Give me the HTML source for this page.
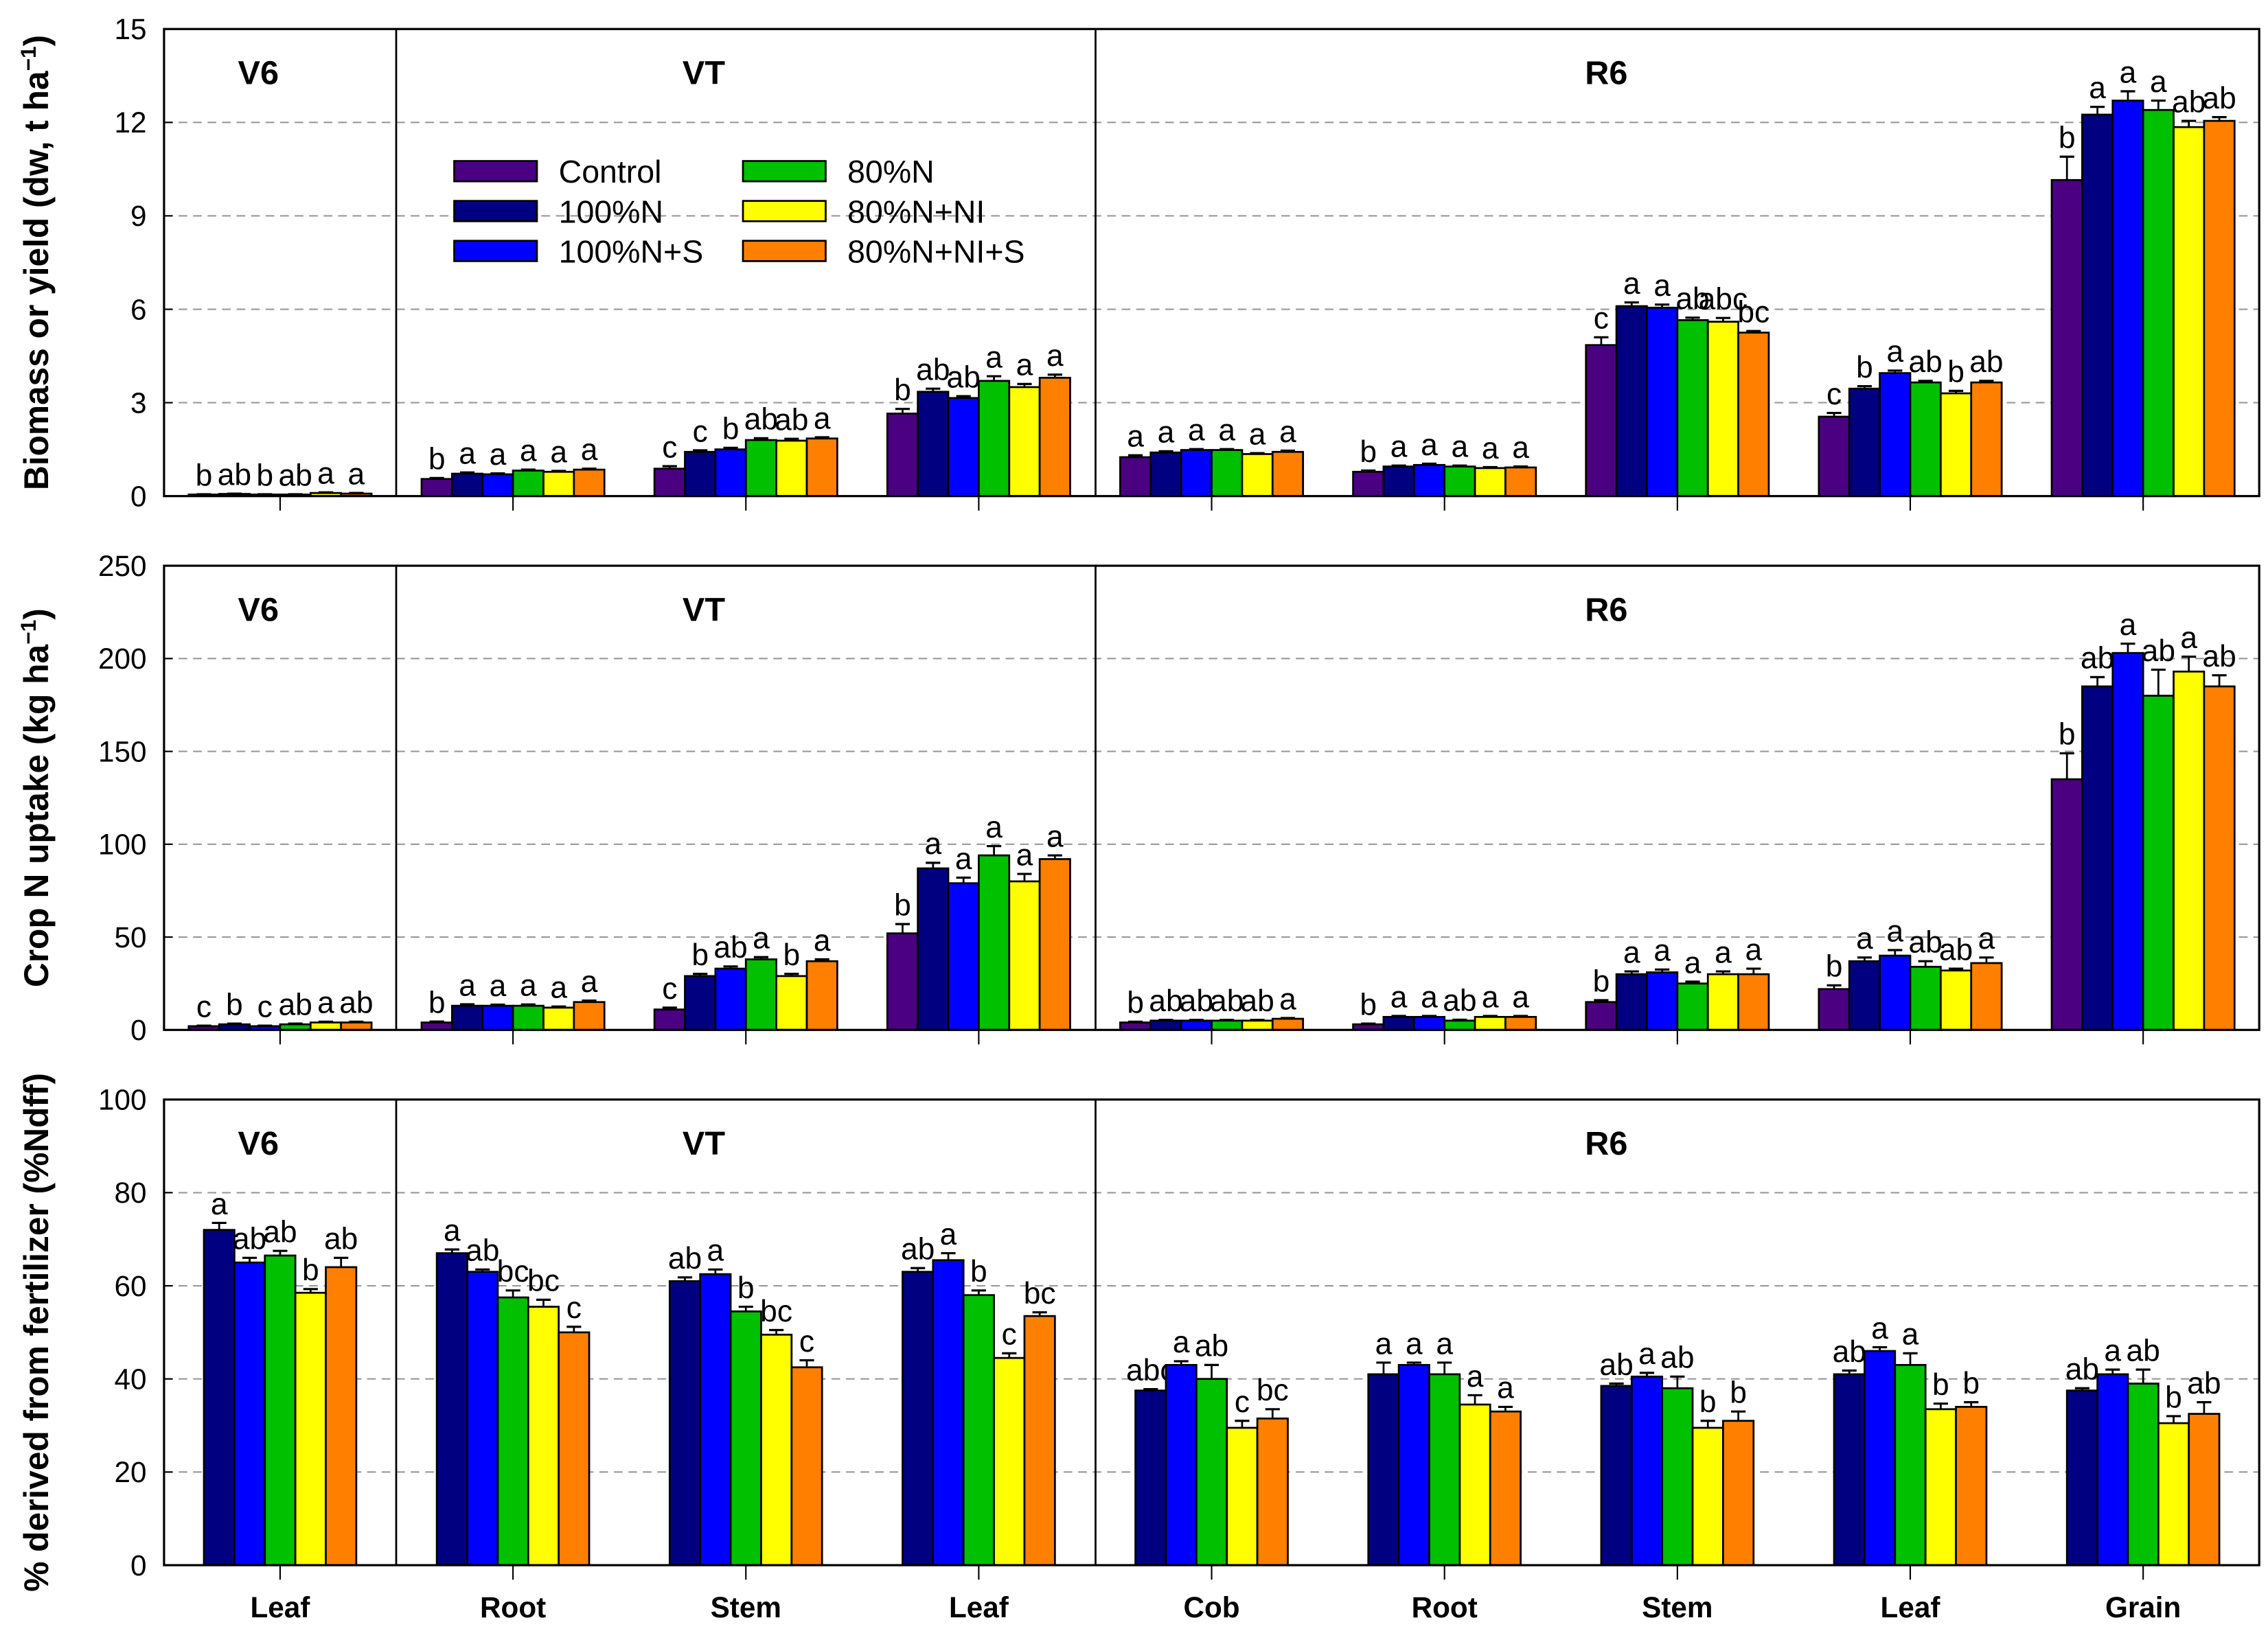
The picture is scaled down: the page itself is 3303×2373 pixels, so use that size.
<!DOCTYPE html>
<html><head><meta charset="utf-8"><style>
html,body{margin:0;padding:0;background:#fff;}
svg{display:block;font-family:"Liberation Sans",Arial,sans-serif;}
</style></head><body>
<svg id="chart" width="3303" height="2373" viewBox="0 0 1563 1123" xmlns="http://www.w3.org/2000/svg"></svg>
<script>
const categories = ["Leaf","Root","Stem","Leaf","Cob","Root","Stem","Leaf","Grain"];
const seriesNames = ["Control","100%N","100%N+S","80%N","80%N+NI","80%N+NI+S"];
const seriesColors = ["#4b0082","#000080","#0000ff","#00c000","#ffff00","#ff8000"];
// Panel 1: biomass
const bioVals = [
 [0.05,0.07,0.05,0.05,0.1,0.08],
 [0.55,0.72,0.7,0.82,0.78,0.85],
 [0.88,1.42,1.5,1.8,1.78,1.85],
 [2.65,3.35,3.15,3.7,3.5,3.8],
 [1.25,1.4,1.48,1.48,1.35,1.42],
 [0.78,0.95,1.0,0.95,0.9,0.92],
 [4.85,6.1,6.05,5.65,5.6,5.25],
 [2.55,3.45,3.95,3.65,3.3,3.65],
 [10.15,12.25,12.7,12.4,11.85,12.05]];
const bioErr = [
 [0.01,0.01,0.01,0.01,0.02,0.02],
 [0.03,0.04,0.03,0.03,0.03,0.03],
 [0.08,0.05,0.05,0.06,0.06,0.04],
 [0.15,0.1,0.06,0.15,0.1,0.1],
 [0.06,0.04,0.03,0.03,0.03,0.04],
 [0.04,0.03,0.04,0.03,0.03,0.03],
 [0.25,0.12,0.1,0.08,0.12,0.05],
 [0.12,0.08,0.08,0.05,0.08,0.05],
 [0.75,0.25,0.3,0.3,0.2,0.12]];
const bioLetters = [
 ["b","ab","b","ab","a","a"],["b","a","a","a","a","a"],["c","c","b","ab","ab","a"],["b","ab","ab","a","a","a"],
 ["a","a","a","a","a","a"],["b","a","a","a","a","a"],["c","a","a","ab","abc","bc"],["c","b","a","ab","b","ab"],["b","a","a","a","ab","ab"]];
// Panel 2: N uptake
const nVals = [
 [2,3,2,3,4,4],[4,13,13,13,12,15],[11,29,33,38,29,37],[52,87,79,94,80,92],
 [4,5,5,5,5,6],[3,7,7,5,7,7],[15,30,31,25,30,30],[22,37,40,34,32,36],[135,185,203,180,193,185]];
const nErr = [
 [0.3,0.4,0.3,0.4,0.4,0.4],[0.5,0.8,0.6,0.7,0.6,0.8],[1,1.2,1.2,1.2,1.2,1],[5,3,3,5,4,2],
 [0.4,0.4,0.4,0.4,0.4,0.4],[0.4,0.5,0.5,0.5,0.5,0.5],[1,1.5,1.5,1,1.5,3],[2,2,3,3,1,3],[14,5,5,14,8,6]];
const nLetters = [
 ["c","b","c","ab","a","ab"],["b","a","a","a","a","a"],["c","b","ab","a","b","a"],["b","a","a","a","a","a"],
 ["b","ab","ab","ab","ab","a"],["b","a","a","ab","a","a"],["b","a","a","a","a","a"],["b","a","a","ab","ab","a"],["b","ab","a","ab","a","ab"]];
// Panel 3: %Ndff (no control)
const ndffVals = [
 [72,65,66.5,58.5,64],[67,63,57.5,55.5,50],[61,62.5,54.5,49.5,42.5],[63,65.5,58,44.5,53.5],
 [37.5,43,40,29.5,31.5],[41,43,41,34.5,33],[38.5,40.5,38,29.5,31],[41,46,43,33.5,34],[37.5,41,39,30.5,32.5]];
const ndffErr = [
 [1.5,1,1,0.8,2],[0.8,0.5,1.5,1.5,1.2],[0.8,1,1,1,1.5],[0.8,1.5,1,1,0.8],
 [0.3,0.8,3,1.5,2],[2.5,0.5,2.5,2,1],[0.5,0.8,2.5,1.5,2],[0.8,0.8,2.5,1.2,1],[0.5,1,3,1.5,2.5]];
const ndffLetters = [
 ["a","ab","ab","b","ab"],["a","ab","bc","bc","c"],["ab","a","b","bc","c"],["ab","a","b","c","bc"],
 ["abc","a","ab","c","bc"],["a","a","a","a","a"],["ab","a","ab","b","b"],["ab","a","a","b","b"],["ab","a","ab","b","ab"]];
const bioTicks = [0,3,6,9,12,15];
const nTicks = [0,50,100,150,200,250];
const ndffTicks = [0,20,40,60,80,100];

const NS="http://www.w3.org/2000/svg";
const svg=document.getElementById('chart');
function mk(tag,attrs,parent){const e=document.createElementNS(NS,tag);for(const k in attrs)e.setAttribute(k,attrs[k]);(parent||svg).appendChild(e);return e;}
const X0=113,X1=1557,D1=273,D2=755;
const groupStep=160.5, groupStart=193, barW=21;
function xCenter(i){return groupStart+i*groupStep;}

function panel(name,top,bottom,ymax,ticks,vals,errs,letters,colorOffset,title){
  const g=mk('g',{});
  
  
  const y=v=>bottom-(v/ymax)*(bottom-top);
  ticks.forEach(t=>{
    if(t>0&&t<ymax){const l=mk('line',{x1:X0,x2:X1,y1:y(t),y2:y(t),stroke:'#999','stroke-width':1,'stroke-dasharray':'6,4'},g);
      }
    const tl=mk('text',{x:101,y:y(t)+7,'text-anchor':'end','font-size':20},g);tl.textContent=t;
    
    mk('line',{x1:X0,x2:X0+6,y1:y(t),y2:y(t),stroke:'#000','stroke-width':1},g);
  });
  vals.forEach((arr,i)=>{
    const n=arr.length,c=xCenter(i),left=c-n*barW/2;
    arr.forEach((v,j)=>{
      const bx=left+j*barW, by=y(v), ey=y(v+errs[i][j]);
      const r=mk('rect',{x:bx,y:by,width:barW,height:bottom-by,fill:seriesColors[j+colorOffset],stroke:'#000','stroke-width':1.3},g);
      
      
      mk('line',{x1:bx+barW/2,x2:bx+barW/2,y1:by,y2:ey,stroke:'#000','stroke-width':1.3},g);
      mk('line',{x1:bx+barW/2-5,x2:bx+barW/2+5,y1:ey,y2:ey,stroke:'#000','stroke-width':1.5},g);
      const t=mk('text',{x:bx+barW/2,y:ey-6,'text-anchor':'middle','font-size':21},g);t.textContent=letters[i][j];
      
    });
    mk('line',{x1:c,x2:c,y1:bottom,y2:bottom+10,stroke:'#000','stroke-width':1},g);
  });
  mk('rect',{x:X0,y:top,width:X1-X0,height:bottom-top,fill:'none',stroke:'#000','stroke-width':1.5},g);
  mk('line',{x1:D1,x2:D1,y1:top,y2:bottom,stroke:'#000','stroke-width':1.3},g);
  mk('line',{x1:D2,x2:D2,y1:top,y2:bottom,stroke:'#000','stroke-width':1.3},g);
  [['V6',178],['VT',485],['R6',1107]].forEach(s=>{
    const t=mk('text',{x:s[1],y:top+38,'text-anchor':'middle','font-size':23,'font-weight':'bold'},g);t.textContent=s[0];
    
  });
  const yt=mk('text',{x:0,y:0,'text-anchor':'middle','font-size':23.5,'font-weight':'bold',transform:`translate(33,${(top+bottom)/2}) rotate(-90)`},g);
  yt.innerHTML=title;
  
}
panel('panel-biomass',20,342,15,bioTicks,bioVals,bioErr,bioLetters,0,'Biomass or yield (dw, t ha<tspan baseline-shift="super" font-size="15">−1</tspan>)');
panel('panel-n-uptake',390,710,250,nTicks,nVals,nErr,nLetters,0,'Crop N uptake (kg ha<tspan baseline-shift="super" font-size="15">−1</tspan>)');
panel('panel-ndff',758,1079,100,ndffTicks,ndffVals,ndffErr,ndffLetters,1,'% derived from fertilizer (%Ndff)');
categories.forEach((c,i)=>{
  const t=mk('text',{x:xCenter(i),y:1115,'text-anchor':'middle','font-size':20,'font-weight':'bold'});t.textContent=c;
  
});
const lg=mk('g',{});


seriesNames.forEach((s,k)=>{
  const col=Math.floor(k/3),row=k%3;
  const sx=313+col*199, sy=111+row*27.5;
  mk('rect',{x:sx,y:sy,width:57,height:14,fill:seriesColors[k],stroke:'#000','stroke-width':1.3},lg);
  const t=mk('text',{x:sx+72,y:sy+15,'font-size':22},lg);t.textContent=s;
  
});
</script>
</body></html>
